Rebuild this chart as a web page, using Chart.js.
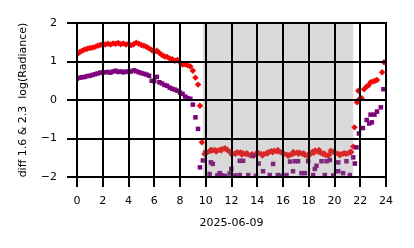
<!DOCTYPE html>
<html>
<head>
<meta charset="utf-8">
<script src="https://cdn.jsdelivr.net/npm/chart.js@4.4.1/dist/chart.umd.min.js"></script>
<style>
  html, body { margin: 0; padding: 0; background: #ffffff; }
  #wrap { width: 414px; height: 248px; }
</style>
</head>
<body>
<div id="wrap"><canvas id="c" width="414" height="248"></canvas></div>
<script>
// ---- data ----
const xTickValues = [0, 2, 4, 6, 8, 10, 12, 14, 16, 18, 20, 22, 24];
const yTickValues = [-2, -1, 0, 1, 2];
const xTitle = "2025-06-09";
const yTitle = "diff 1.6 & 2.3  log(Radiance)";
const shadeRange = [9.78, 21.45];

const redHours = [
  0.0, 0.2, 0.4, 0.6, 0.8, 1.0, 1.2, 1.4, 1.6, 1.8,
  2.0, 2.2, 2.4, 2.6, 2.8, 3.0, 3.2, 3.4, 3.6, 3.8,
  4.0, 4.2, 4.4, 4.6, 4.8, 5.0, 5.2, 5.4, 5.6, 5.8,
  6.0, 6.2, 6.4, 6.6, 6.8, 7.0, 7.2, 7.4, 7.6, 7.8,
  8.0, 8.2, 8.4, 8.6, 8.8, 9.0, 9.2, 9.4, 9.55, 9.7,
  9.9, 10.1, 10.3, 10.5, 10.7, 10.9, 11.1, 11.3, 11.5, 11.7,
  11.9, 12.1, 12.3, 12.5, 12.7, 12.9, 13.1, 13.3, 13.5, 13.7,
  13.9, 14.1, 14.3, 14.5, 14.7, 14.9, 15.1, 15.3, 15.5, 15.7,
  15.9, 16.1, 16.3, 16.5, 16.7, 16.9, 17.1, 17.3, 17.5, 17.7,
  17.9, 18.1, 18.3, 18.5, 18.7, 18.9, 19.1, 19.3, 19.5, 19.7,
  19.9, 20.1, 20.3, 20.5, 20.7, 20.9, 21.1, 21.3, 21.45, 21.55,
  21.75, 21.85, 21.95, 22.1, 22.3, 22.5, 22.65, 22.8, 23.0, 23.15,
  23.3, 23.7, 23.85,
  10.0, 10.4, 10.8, 11.2, 11.6, 12.0, 12.4, 12.8, 13.2, 13.6,
  14.0, 14.4, 14.8, 15.2, 15.6, 16.0, 16.4, 16.8, 17.2, 17.6,
  18.0, 18.4, 18.8, 19.2, 19.6, 20.0, 20.4, 20.8, 21.2
];
const redValues = [
  1.19, 1.24, 1.28, 1.31, 1.33, 1.35, 1.36, 1.38, 1.41, 1.43,
  1.45, 1.44, 1.46, 1.44, 1.47, 1.46, 1.48, 1.45, 1.47, 1.44,
  1.46, 1.42, 1.45, 1.49, 1.46, 1.43, 1.41, 1.38, 1.34, 1.30,
  1.25, 1.28, 1.22, 1.17, 1.13, 1.12, 1.08, 1.06, 1.02, 1.04,
  0.98, 0.92, 0.93, 0.90, 0.87, 0.76, 0.58, 0.40, -0.15, -1.10,
  -1.40, -1.36, -1.33, -1.31, -1.30, -1.32, -1.29, -1.27, -1.25, -1.30,
  -1.36, -1.39, -1.40, -1.37, -1.36, -1.38, -1.40, -1.42, -1.44, -1.45,
  -1.41, -1.38, -1.40, -1.41, -1.38, -1.35, -1.33, -1.32, -1.33, -1.34,
  -1.37, -1.40, -1.42, -1.43, -1.41, -1.38, -1.36, -1.37, -1.40, -1.43,
  -1.45, -1.42, -1.34, -1.31, -1.34, -1.37, -1.40, -1.43, -1.44, -1.32,
  -1.34, -1.38, -1.40, -1.41, -1.39, -1.40, -1.38, -1.35, -1.21, -0.71,
  -0.06, 0.24, 0.03, 0.05, 0.28, 0.35, 0.38, 0.46, 0.48, 0.50,
  0.52, 0.72, 0.98,
  -1.34, -1.29, -1.34, -1.31, -1.29, -1.41, -1.36, -1.42, -1.38, -1.41,
  -1.36, -1.44, -1.39, -1.36, -1.30, -1.38, -1.45, -1.35, -1.40, -1.38,
  -1.41, -1.37, -1.30, -1.39, -1.42, -1.36, -1.43, -1.38, -1.35
];

const purpleHours = [
  0.0, 0.2, 0.4, 0.6, 0.8, 1.0, 1.2, 1.4, 1.6, 1.8,
  2.0, 2.2, 2.4, 2.6, 2.8, 3.0, 3.2, 3.4, 3.6, 3.8,
  4.0, 4.2, 4.4, 4.6, 4.8, 5.0, 5.2, 5.4, 5.6, 5.8,
  6.0, 6.2, 6.4, 6.6, 6.8, 7.0, 7.2, 7.4, 7.6, 7.8,
  8.0, 8.2, 8.4, 8.6, 8.8, 9.0, 9.2, 9.4, 9.55, 9.78,
  10.3, 10.4, 10.55, 10.9, 11.08, 11.2, 11.5, 11.86, 11.98, 12.3,
  12.64, 12.64, 12.9, 13.3, 13.67, 13.9, 14.1, 14.45, 14.97, 15.23,
  15.6, 15.9, 16.27, 16.55, 16.78, 16.92, 17.17, 17.43, 17.7, 17.95,
  18.34, 18.47, 18.6, 18.99, 19.25, 19.38, 19.64, 19.9, 20.29, 20.29,
  20.67, 20.93, 21.19, 21.45, 21.58, 21.7, 21.9, 22.2, 22.5, 22.7,
  22.8, 22.9, 23.1, 23.3, 23.6, 23.8
];
const purpleValues = [
  0.55, 0.58, 0.59, 0.60, 0.62, 0.63, 0.65, 0.67, 0.69, 0.71,
  0.72, 0.72, 0.73, 0.71, 0.74, 0.76, 0.73, 0.74, 0.72, 0.74,
  0.73, 0.74, 0.77, 0.75, 0.72, 0.70, 0.68, 0.66, 0.63, 0.50,
  0.49, 0.60, 0.46, 0.43, 0.39, 0.37, 0.32, 0.29, 0.27, 0.24,
  0.19, 0.16, 0.09, 0.05, 0.03, -0.12, -0.45, -0.75, -1.75, -1.57,
  -1.92, -1.62, -1.66, -1.96, -1.90, -1.95, -1.97, -1.91, -1.79, -1.96,
  -1.95, -1.58, -1.58, -1.95, -1.45, -1.97, -1.65, -1.85, -1.95, -1.66,
  -1.95, -1.97, -1.95, -1.60, -1.85, -1.59, -1.59, -1.90, -1.90, -1.59,
  -1.95, -1.79, -1.71, -1.59, -1.95, -1.59, -1.56, -1.96, -1.85, -1.62,
  -1.90, -1.59, -1.95, -1.49, -1.65, -1.23, -0.87, -0.73, -0.52, -0.61,
  -0.38, -0.58, -0.38, -0.30, -0.19, 0.28
];

// ---- build chart ----
const toPoints = (xs, ys) => xs.map((x, i) => ({ x: x, y: ys[i] }));

// shade over the points, then grid lines on top (matching the reference draw order)
const overlayPlugin = {
  id: 'overlay',
  afterDraw(chart) {
    const { ctx, chartArea, scales } = chart;
    const xs = scales.x, ys = scales.y;
    const top = Math.round(chartArea.top), bottom = Math.round(chartArea.bottom);
    const left = Math.round(chartArea.left), right = Math.round(chartArea.right);
    ctx.save();
    ctx.globalAlpha = 1;
    ctx.globalCompositeOperation = 'source-over';
    const x0 = xs.getPixelForValue(shadeRange[0]);
    const x1 = xs.getPixelForValue(shadeRange[1]);
    ctx.fillStyle = 'rgba(128,128,128,0.3)';
    ctx.fillRect(x0, top, x1 - x0, bottom - top);
    ctx.fillStyle = 'rgb(0,0,0)';
    xTickValues.forEach(v => {
      const p = Math.round(xs.getPixelForValue(v));
      ctx.fillRect(p - 1, top - 1, 2, bottom - top + 2);
    });
    yTickValues.forEach(v => {
      const p = Math.round(ys.getPixelForValue(v));
      ctx.fillRect(left - 1, p - 1, right - left + 2, 2);
    });
    ctx.restore();
  }
};

const tickFont = { family: 'DejaVu Sans', size: 11 };
const titleFont = { family: 'DejaVu Sans', size: 11 };

new Chart(document.getElementById('c'), {
  type: 'scatter',
  data: {
    datasets: [
      {
        label: 'purple',
        data: toPoints(purpleHours, purpleValues),
        pointStyle: 'rect',
        pointRadius: 3.2,
        borderWidth: 0,
        backgroundColor: 'rgb(128,0,128)',
        order: 0
      },
      {
        label: 'red',
        data: toPoints(redHours, redValues),
        pointStyle: 'rectRot',
        pointRadius: 3.2,
        borderWidth: 0,
        backgroundColor: 'rgb(255,0,0)',
        order: 1
      }
    ]
  },
  options: {
    responsive: false,
    animation: false,
    devicePixelRatio: 1,
    layout: { padding: { left: 0, right: 28, top: 23, bottom: 0 } },
    plugins: { legend: { display: false }, tooltip: { enabled: false } },
    scales: {
      x: {
        type: 'linear',
        min: 0, max: 24,
        afterBuildTicks: (s) => { s.ticks = xTickValues.map(v => ({ value: v })); },
        afterFit: (s) => { s.height = 71; },
        grid: { drawOnChartArea: false, color: '#000', lineWidth: 2, tickLength: 10, tickColor: '#000', tickWidth: 2 },
        border: { display: false },
        ticks: { color: '#000', font: tickFont, padding: 8, maxRotation: 0, autoSkip: false },
        title: { display: true, text: xTitle, color: '#000', font: titleFont, padding: { top: 0, bottom: 18 } }
      },
      y: {
        type: 'linear',
        min: -2, max: 2,
        afterBuildTicks: (s) => { s.ticks = yTickValues.map(v => ({ value: v })); },
        afterFit: (s) => { s.width = 77; },
        grid: { drawOnChartArea: false, color: '#000', lineWidth: 2, tickLength: 10, tickColor: '#000', tickWidth: 2 },
        border: { display: false },
        ticks: {
          color: '#000', font: tickFont, padding: 10, autoSkip: false,
          callback: (v) => String(v).replace('-', '\u2212')
        },
        title: { display: true, text: yTitle, color: '#000', font: titleFont, padding: { top: 17, bottom: 0 } }
      }
    }
  },
  plugins: [overlayPlugin]
});
</script>
</body>
</html>
